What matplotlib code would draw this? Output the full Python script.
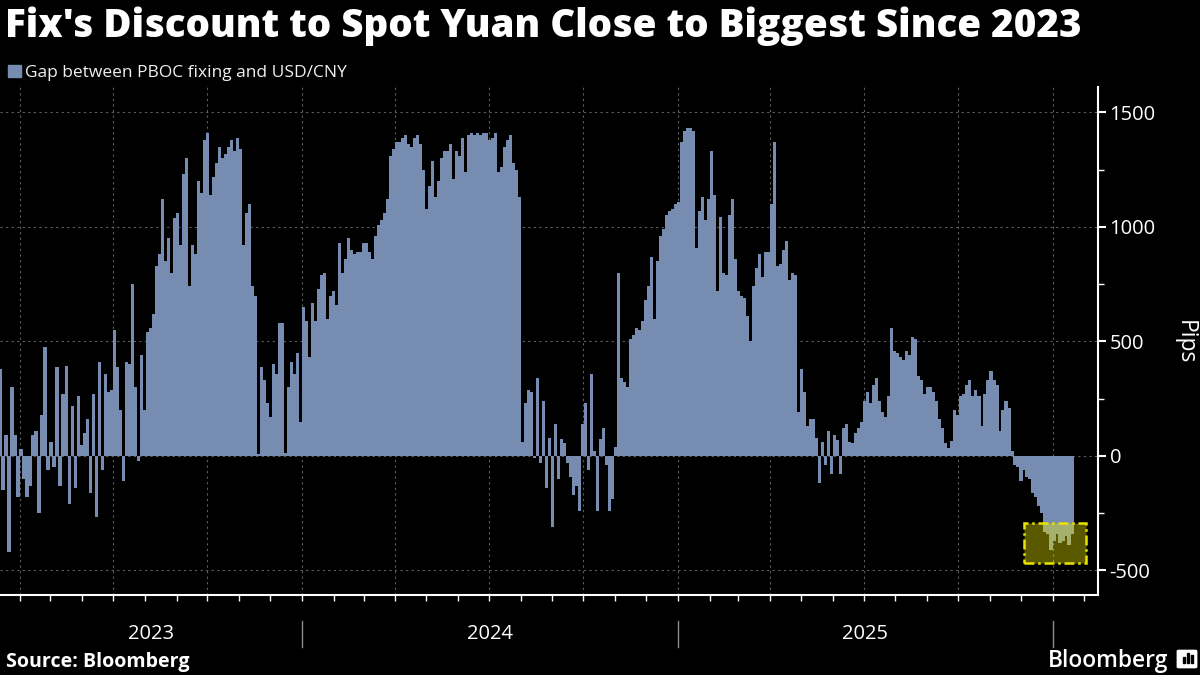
import numpy as np
import pandas as pd
import matplotlib
matplotlib.use("Agg")
import matplotlib.pyplot as plt
import matplotlib.dates as mdates
from matplotlib.patches import Rectangle, FancyBboxPatch
from matplotlib.ticker import NullFormatter
from matplotlib.transforms import blended_transform_factory

plt.rcParams['font.family'] = ['Open Sans', 'DejaVu Sans']
plt.rcParams['axes.unicode_minus'] = False

TITLE = "Fix's Discount to Spot Yuan Close to Biggest Since 2023"
LEGEND = "Gap between PBOC fixing and USD/CNY"
SOURCE = "Source: Bloomberg"
YLABEL = "Pips"

# gap in pips, every 3 calendar days
first_day = "2023-03-13"
last_day = "2026-01-20"

gap_mar23_dec23 = [
    380, -150, 90, -420, 300, 90, -180, 30, -100, -180,
    -130, 90, 110, -250, 180, 475, -60, 60, -50, 390,
    -130, 270, 395, -210, 220, -140, 260, 50, 100, 160,
    -160, 270, -265, 410, -60, 360, 280, 290, 550, 390,
    200, -110, 410, 400, 750, 300, -20, 440, 200, 540,
    560, 620, 830, 880, 1120, 850, 950, 800, 1040, 1060,
    920, 1230, 1300, 740, 920, 880, 1200, 1150, 1380, 1410,
    1140, 1220, 1280, 1350, 1300, 1320, 1350, 1380, 1330, 1390,
    1340, 920, 1060, 1100, 740, 700, 10, 390, 330, 230,
    170, 400, 360,
]
gap_dec23_sep24 = [
    580, 580, 15, 300, 410, 360, 450, 150, 650, 590,
    430, 670, 590, 730, 790, 800, 600, 700, 720, 660,
    930, 800, 860, 950, 900, 880, 890, 890, 930, 930,
    890, 860, 960, 1010, 1030, 1060, 1120, 1310, 1340, 1370,
    1370, 1390, 1400, 1360, 1350, 1390, 1400, 1360, 1250, 1080,
    1180, 1290, 1130, 1200, 1300, 1330, 1330, 1360, 1210, 1330,
    1310, 1390, 1240, 1400, 1410, 1400, 1410, 1400, 1410, 1410,
    1380, 1390, 1410, 1240, 1260, 1350, 1380, 1400, 1280, 1250,
    1130, 60, 230, 290, 280, -10, 340, -30, 240, -140,
    80,
]
gap_sep24_may25 = [
    -310, 140, -100, 75, 55, -30, -90, -170, -130, -240,
    140, 230, -60, 360, 20, -240, 75, 120, -40, -240,
    -190, 40, 800, 340, 325, 300, 510, 530, 560, 550,
    590, 680, 740, 870, 600, 850, 960, 990, 1050, 1070,
    1080, 1100, 1110, 1370, 1420, 1430, 1430, 1420, 910, 1070,
    1130, 1030, 1120, 1330, 1140, 720, 1045, 800, 790, 1050,
    1120, 860, 720, 700, 690, 610, 500, 740, 820, 880,
    780, 890, 890, 1100, 1370, 830, 840, 900, 940, 770,
    800, 790, 190, 380, 280, 130, 160, 160, 80, -120,
]
gap_may25_jan26 = [
    60, -40, 110, -80, 90, 70, -80, 120, 140, 60,
    55, 100, 120, 150, 240, 280, 230, 310, 340, 240,
    190, 170, 260, 560, 460, 450, 430, 420, 460, 440,
    520, 510, 350, 330, 270, 300, 300, 280, 240, 160,
    120, 55, 35, 65, 200, 180, 260, 270, 310, 330,
    260, 290, 260, 130, 270, 330, 370, 330, 310, 110,
    200, 240, 210, 20, -40, -50, -110, -60, -90, -100,
    -160, -180, -220, -250, -330, -340, -410, -370, -340, -380,
    -370, -350, -390, -340,
]

# highlighted window at the end of the series
box_start, box_end = "2025-12-04", "2026-02-03"
box_low, box_high = -469, -291

BAR = '#768cb0'
GRID = '#5e5e5e'

gap = np.array(gap_mar23_dec23 + gap_dec23_sep24 + gap_sep24_may25 + gap_may25_jan26)
dates = pd.date_range(first_day, last_day, periods=len(gap))
step = (dates[1] - dates[0]).total_seconds() / 86400

W, H = 1200, 675
fig = plt.figure(figsize=(12, 6.75), dpi=100, facecolor='black')
ax = fig.add_axes([0, 1 - 595 / H, 1097.7 / W, (595 - 87) / H])
ax.set_facecolor('black')

ax.bar(dates, gap, width=step * 1.04, color=BAR, linewidth=0, zorder=2)

x0, x1 = pd.Timestamp("2023-03-13"), pd.Timestamp("2026-02-14")
ax.set_xlim(x0, x1)
ax.set_ylim(-607, 1611)

# highlight box
b0 = mdates.date2num(pd.Timestamp(box_start))
b1 = mdates.date2num(pd.Timestamp(box_end))
ax.add_patch(Rectangle((b0, box_low), b1 - b0, box_high - box_low,
                       facecolor=(0.95, 0.92, 0.0, 0.38), edgecolor='#e8e400',
                       linestyle=(0, (4, 1.5, 1, 1.5)), linewidth=1.8, zorder=3))

# axes styling
for s in ['left', 'top']:
    ax.spines[s].set_visible(False)
for s in ['right', 'bottom']:
    ax.spines[s].set_color('white')
    ax.spines[s].set_linewidth(1.5)

ax.yaxis.tick_right()
ax.set_yticks([-500, 0, 500, 1000, 1500])
ax.set_yticks(np.arange(-500, 1501, 250), minor=True)
ax.tick_params(axis='y', which='major', colors='white', length=6, width=1.5,
               labelsize=14.5, pad=2.5)
ax.tick_params(axis='y', which='minor', colors='white', length=4, width=1)

ax.xaxis.set_major_locator(mdates.MonthLocator(bymonth=[1, 4, 7, 10]))
ax.xaxis.set_minor_locator(mdates.MonthLocator())
ax.xaxis.set_major_formatter(NullFormatter())
ax.xaxis.set_minor_formatter(NullFormatter())
ax.tick_params(axis='x', which='both', colors='white', length=4, width=1)

ax.grid(True, which='major', color=GRID, linestyle=(0, (2, 3)), linewidth=0.8)
ax.set_axisbelow(True)

# year labels centred on the visible part of each year, with separators
trans = blended_transform_factory(ax.transData, ax.transAxes)
for yr in range(2023, 2027):
    ys, ye = pd.Timestamp(f"{yr}-01-01"), pd.Timestamp(f"{yr + 1}-01-01")
    if x0 < ys < x1:
        d = mdates.date2num(ys)
        ax.plot([d, d], [-0.051, -0.102], transform=trans, color='#8c8c8c',
                lw=1, clip_on=False)
    vs, ve = max(ys, x0), min(ye, x1)
    if (ve - vs).days > 120:
        mid = mdates.date2num(vs) + (mdates.date2num(ve) - mdates.date2num(vs)) / 2
        ax.text(mid, -0.077, str(yr), transform=trans, ha='center', va='center',
                color='white', fontsize=14.5)

fig.text(1185 / W, 1 - 342 / H, YLABEL, rotation=270, ha='center', va='center',
         color='white', fontsize=16.5)

# header
title = fig.text(5 / W, 1 - 37 / H, TITLE, color='white', fontsize=25,
                 weight=800, ha='left', va='baseline')
fig.add_artist(Rectangle((8 / W, 1 - 77 / H), 13 / W, 12 / H,
                         transform=fig.transFigure, color=BAR))
legend = fig.text(25 / W, 1 - 77 / H, LEGEND, color='#f0f0f0', fontsize=12.5,
                  ha='left', va='baseline')

# footer
source = fig.text(6 / W, 1 - 667 / H, SOURCE, color='white', fontsize=12.5,
                  weight='bold', ha='left', va='baseline')
logo = fig.text(1048 / W, 1 - 667 / H, "Bloomberg", color='white', fontsize=17,
                weight='semibold', ha='left', va='baseline')
fig.add_artist(FancyBboxPatch((1179 / W, 1 - 667 / H), 16 / W, 16 / H,
                              boxstyle="round,pad=0.002", transform=fig.transFigure,
                              facecolor='white', edgecolor='none'))
for bx, bh in [(1183, 6), (1187, 10), (1191, 8)]:
    fig.add_artist(Rectangle((bx / W, 1 - 663 / H), 2 / W, bh / H,
                             transform=fig.transFigure, color='black'))


def fit_width(txt, target_px):
    fig.canvas.draw()
    w = txt.get_window_extent().width
    txt.set_fontsize(txt.get_fontsize() * target_px / w)


fit_width(title, 1077)
fit_width(legend, 322)
fit_width(source, 184)
fit_width(logo, 120)

fig.savefig("out.png", dpi=100, facecolor='black')
